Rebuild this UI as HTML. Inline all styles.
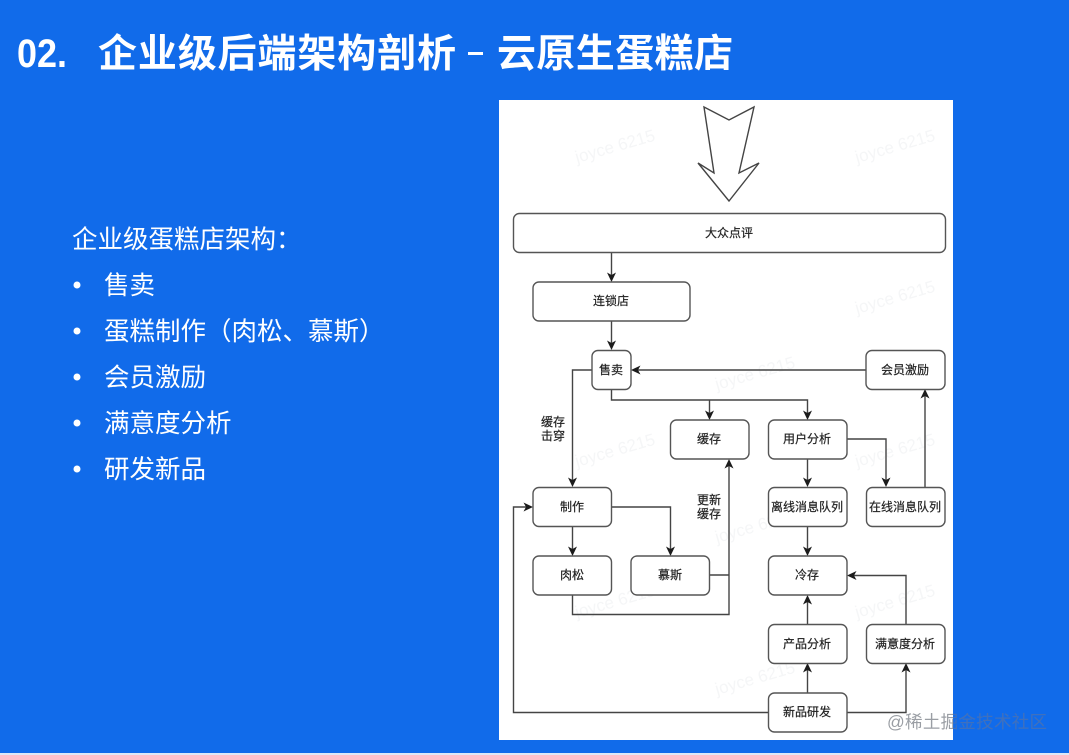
<!DOCTYPE html>
<html lang="zh">
<head>
<meta charset="utf-8">
<style>
html,body{margin:0;padding:0;width:1069px;height:755px;overflow:hidden;background:#116bea}
svg{display:block;overflow:hidden}
text{font-family:"Liberation Sans","Noto Sans CJK SC",sans-serif;text-spacing-trim:space-all}
.n rect{fill:#fff;stroke:#555;stroke-width:1.4}
.t{font-size:12px;fill:#222;stroke:#222;stroke-width:.2;text-anchor:middle;dominant-baseline:central}
.l{fill:none;stroke:#444;stroke-width:1.4}
.a{fill:#1c1c1c}
.w{font-size:17px;fill:#f5f6f7}
.b{font-size:25.500px;fill:#fff;dominant-baseline:central}
.h{font-size:39px;font-weight:700;fill:#fff}
</style>
</head>
<body>
<svg width="1069" height="755" viewBox="0 0 1069 755" xmlns="http://www.w3.org/2000/svg">
<defs>
<linearGradient id="wm" gradientUnits="userSpaceOnUse" x1="887" y1="0" x2="1047" y2="0">
<stop offset="0" stop-color="#9a9ea4"/><stop offset=".4125" stop-color="#9a9ea4"/>
<stop offset=".4125" stop-color="#3f70bd"/><stop offset="1" stop-color="#3f70bd"/>
</linearGradient>
</defs>
<rect width="1069" height="755" fill="#116bea"/>
<rect y="753" width="1069" height="2" fill="#dfe8f6"/>

<text x="17" y="67" font-size="40" font-weight="700" fill="#fff" textLength="50" lengthAdjust="spacingAndGlyphs">02.</text>
<text class="h" x="98" y="67" textLength="358" lengthAdjust="spacing">企业级后端架构剖析</text>
<rect x="468" y="52" width="15" height="3" fill="#fff"/>
<text class="h" x="497" y="67" textLength="236" lengthAdjust="spacing">云原生蛋糕店</text>

<text class="b" x="72" y="240">企业级蛋糕店架构：</text>
<circle cx="77" cy="285" r="3.500" fill="#fff"/><text class="b" x="104" y="286">售卖</text>
<circle cx="77" cy="331" r="3.500" fill="#fff"/><text class="b" x="104" y="332">蛋糕制作（肉松、慕斯）</text>
<circle cx="77" cy="377" r="3.500" fill="#fff"/><text class="b" x="104" y="378">会员激励</text>
<circle cx="77" cy="423" r="3.500" fill="#fff"/><text class="b" x="104" y="424">满意度分析</text>
<circle cx="77" cy="469" r="3.500" fill="#fff"/><text class="b" x="104" y="470">研发新品</text>

<rect x="499" y="100" width="454" height="640" fill="#fff"/>

<text x="577" y="163" transform="rotate(-16 577 163)" class="w">joyce 6215</text>
<text x="857" y="163" transform="rotate(-16 857 163)" class="w">joyce 6215</text>
<text x="577" y="314" transform="rotate(-16 577 314)" class="w">joyce 6215</text>
<text x="857" y="314" transform="rotate(-16 857 314)" class="w">joyce 6215</text>
<text x="717" y="390" transform="rotate(-16 717 390)" class="w">joyce 6215</text>
<text x="577" y="467" transform="rotate(-16 577 467)" class="w">joyce 6215</text>
<text x="857" y="467" transform="rotate(-16 857 467)" class="w">joyce 6215</text>
<text x="717" y="543" transform="rotate(-16 717 543)" class="w">joyce 6215</text>
<text x="577" y="618" transform="rotate(-16 577 618)" class="w">joyce 6215</text>
<text x="857" y="618" transform="rotate(-16 857 618)" class="w">joyce 6215</text>
<text x="717" y="695" transform="rotate(-16 717 695)" class="w">joyce 6215</text>

<polygon points="704,107 729,120 754,107 739,173 759,163 729,201 698,163 714,173" fill="#fff" stroke="#444" stroke-width="1.400"/>

<g class="l">
<path d="M611.500 252V276"/>
<path d="M611.500 321V344"/>
<path d="M866 370H637"/>
<path d="M611.500 389V400H807.500V414"/>
<path d="M709.500 400V414"/>
<path d="M592 370H572.500V481"/>
<path d="M847 439H886V481"/>
<path d="M807.500 459V481"/>
<path d="M925 487V395"/>
<path d="M572.500 527V550"/>
<path d="M611 507H670.500V550"/>
<path d="M807.500 527V550"/>
<path d="M709 575H729"/>
<path d="M572.500 595V614.500H729V465"/>
<path d="M807.500 624V602"/>
<path d="M906 624V575.500H853"/>
<path d="M807.500 693V670"/>
<path d="M847 712.500H906V670"/>
<path d="M768 712.500H513.500V507H527"/>
</g>
<g class="a">
<path d="M611.500 282l-4.500-9.500 4.500 2.500 4.500-2.500z"/>
<path d="M611.500 350l-4.500-9.500 4.500 2.500 4.500-2.500z"/>
<path d="M631 370l9.500-4.500-2.500 4.500 2.500 4.500z"/>
<path d="M709.500 420l-4.500-9.500 4.500 2.500 4.500-2.500z"/>
<path d="M807.500 420l-4.500-9.500 4.500 2.500 4.500-2.500z"/>
<path d="M572.500 487l-4.500-9.500 4.500 2.500 4.500-2.500z"/>
<path d="M886 487l-4.500-9.500 4.500 2.500 4.500-2.500z"/>
<path d="M807.500 487l-4.500-9.500 4.500 2.500 4.500-2.500z"/>
<path d="M925 389l-4.500 9.500 4.500-2.500 4.500 2.500z"/>
<path d="M572.500 556l-4.500-9.500 4.500 2.500 4.500-2.500z"/>
<path d="M670.500 556l-4.500-9.500 4.500 2.500 4.500-2.500z"/>
<path d="M807.500 556l-4.500-9.500 4.500 2.500 4.500-2.500z"/>
<path d="M729 459l-4.500 9.500 4.500-2.500 4.500 2.500z"/>
<path d="M807.500 595l-4.500 9.500 4.500-2.500 4.500 2.500z"/>
<path d="M847 575.500l9.500-4.500-2.500 4.500 2.500 4.500z"/>
<path d="M807.500 663l-4.500 9.500 4.500-2.500 4.500 2.500z"/>
<path d="M906 663l-4.500 9.500 4.500-2.500 4.500 2.500z"/>
<path d="M533 507l-9.500-4.500 2.500 4.500-2.500 4.500z"/>
</g>

<g class="n">
<rect x="513.500" y="213.500" width="432" height="39" rx="6"/>
<rect x="533" y="282" width="157" height="39" rx="6"/>
<rect x="592" y="350.500" width="39" height="39" rx="6"/>
<rect x="866" y="350.500" width="79" height="39" rx="6"/>
<rect x="670.500" y="420" width="78.500" height="39" rx="6"/>
<rect x="768.500" y="420" width="78.500" height="39" rx="6"/>
<rect x="533" y="487.500" width="78.500" height="39" rx="6"/>
<rect x="768.500" y="487.500" width="78.500" height="39" rx="6"/>
<rect x="866.500" y="487.500" width="78.500" height="39" rx="6"/>
<rect x="533" y="556" width="78.500" height="39" rx="6"/>
<rect x="631" y="556" width="78.500" height="39" rx="6"/>
<rect x="768.500" y="556" width="78.500" height="39" rx="6"/>
<rect x="768.500" y="624.500" width="78.500" height="39" rx="6"/>
<rect x="866.500" y="624.500" width="78.500" height="39" rx="6"/>
<rect x="768.500" y="693" width="78.500" height="39" rx="6"/>
</g>
<text class="t" x="729" y="233">大众点评</text>
<text class="t" x="611" y="301">连锁店</text>
<text class="t" x="611" y="370">售卖</text>
<text class="t" x="905" y="370">会员激励</text>
<text class="t" x="709" y="439">缓存</text>
<text class="t" x="807" y="439">用户分析</text>
<text class="t" x="572" y="507">制作</text>
<text class="t" x="807" y="507">离线消息队列</text>
<text class="t" x="905" y="507">在线消息队列</text>
<text class="t" x="572" y="575">肉松</text>
<text class="t" x="670" y="575">慕斯</text>
<text class="t" x="807" y="575">冷存</text>
<text class="t" x="807" y="644">产品分析</text>
<text class="t" x="905" y="644">满意度分析</text>
<text class="t" x="807" y="712">新品研发</text>
<text class="t" x="553" y="422">缓存</text>
<text class="t" x="553" y="436">击穿</text>
<text class="t" x="709" y="500">更新</text>
<text class="t" x="709" y="514">缓存</text>

<text x="887" y="728" font-size="17.500" fill="url(#wm)" textLength="160" lengthAdjust="spacing">@稀土掘金技术社区</text>
</svg>
</body>
</html>
